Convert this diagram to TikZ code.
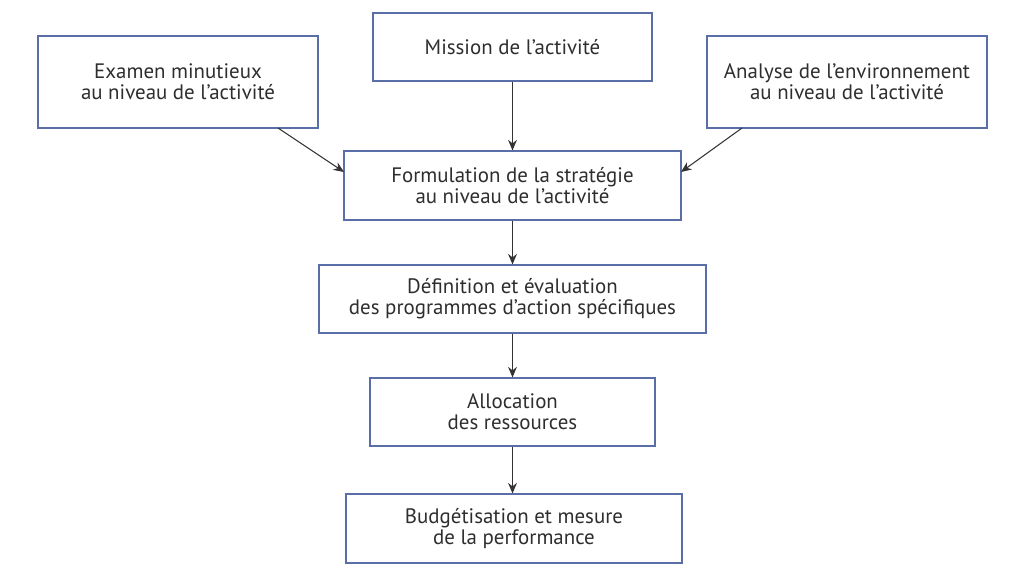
\documentclass[tikz,border=0pt]{standalone}
\usepackage{fontspec}
\setmainfont{PT Sans}
\usetikzlibrary{arrows.meta}
\definecolor{boxline}{HTML}{5A6FA8}
\definecolor{boxtext}{HTML}{2E2E2E}
\tikzset{
  stepbox/.style={draw=boxline, line width=0.6pt, fill=white, text=boxtext,
    align=center, font=\fontsize{11.9}{12}\selectfont, inner sep=0pt},
  flow/.style={-{Stealth[length=6pt,width=5pt]}, line width=0.6pt, draw=black!80}
}
\begin{document}
\begin{tikzpicture}[x=0.02cm,y=-0.02cm]
      \useasboundingbox (0,0) rectangle (1024,576);
      \node[stepbox, minimum width=280*0.02cm, minimum height=92*0.02cm] (exam) at (178,82) {Examen minutieux\\au niveau de l'activité};
      \node[stepbox, minimum width=279*0.02cm, minimum height=68*0.02cm] (mission) at (512.5,47) {Mission de l'activité};
      \node[stepbox, minimum width=280*0.02cm, minimum height=92*0.02cm] (envir) at (847,82) {Analyse de l'environnement\\au niveau de l'activité};
      \node[stepbox, minimum width=337*0.02cm, minimum height=69*0.02cm] (formul) at (512.5,185.5) {Formulation de la stratégie\\au niveau de l'activité};
      \node[stepbox, minimum width=387*0.02cm, minimum height=68*0.02cm] (defin) at (512.5,299) {Définition et évaluation\\des programmes d'action spécifiques};
      \node[stepbox, minimum width=285*0.02cm, minimum height=68*0.02cm] (alloc) at (512.5,412) {Allocation\\des ressources};
      \node[stepbox, minimum width=336*0.02cm, minimum height=69*0.02cm] (budget) at (514,528.5) {Budgétisation et mesure\\de la performance};
      \coordinate (e1) at (278,128);
      \coordinate (a1) at (742,128);
      \coordinate (f1) at (344,172);
      \coordinate (f2) at (681,172);
      \draw [flow] (mission) -- (formul);
      \draw [flow] (e1) -- (f1);
      \draw [flow] (a1) -- (f2);
      \draw [flow] (formul.south) -- (formul.south |- defin.north);
      \draw [flow] (defin.south) -- (defin.south |- alloc.north);
      \draw [flow] (alloc.south) -- (alloc.south |- budget.north);
\end{tikzpicture}
\end{document}
